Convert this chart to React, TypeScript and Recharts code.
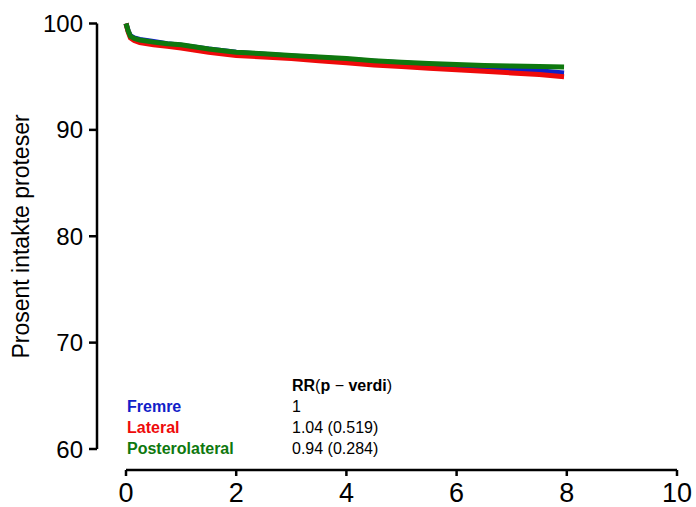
import { LineChart, Line, XAxis, YAxis } from 'recharts';

const years = [0, 0.04, 0.08, 0.15, 0.25, 0.5, 0.75, 1, 1.5, 2, 2.5, 3, 3.5, 4, 4.5, 5, 5.5, 6, 6.5, 7, 7.5, 7.95];
const fremre = [100, 99.3, 98.85, 98.65, 98.5, 98.3, 98.1, 97.95, 97.6, 97.3, 97.1, 96.95, 96.8, 96.65, 96.45, 96.3, 96.15, 96.05, 95.9, 95.75, 95.55, 95.35];
const lateral = [100, 99.2, 98.65, 98.4, 98.2, 98.0, 97.85, 97.7, 97.3, 97.0, 96.85, 96.7, 96.5, 96.3, 96.1, 95.95, 95.8, 95.65, 95.5, 95.35, 95.2, 95.0];
const posterolateral = [100, 99.3, 98.8, 98.6, 98.45, 98.25, 98.1, 98.0, 97.6, 97.3, 97.15, 97.0, 96.85, 96.7, 96.5, 96.35, 96.25, 96.15, 96.05, 96.0, 95.95, 95.9];

const groups = ['Fremre', 'Lateral', 'Posterolateral'];
const rrLabels = ['1', '1.04 (0.519)', '0.94 (0.284)'];
const COLORS = ['#1020c8', '#ee0a0a', '#0e780e'];

const xTicks = [0, 2, 4, 6, 8, 10];
const yTicks = [60, 70, 80, 90, 100];

const data = years.map((t, i) => ({
  t,
  fremre: fremre[i],
  lateral: lateral[i],
  posterolateral: posterolateral[i],
}));

// R-style axes sit a bit away from the plot region
const X_SHIFT = 21;
const Y_SHIFT = 29;

const axisStroke = { stroke: '#000', strokeWidth: 2.5 };

const XTick = (props: any) => (
  <text x={props.x} y={props.y + X_SHIFT} dy="0.71em" textAnchor="middle" fontSize={27} fill="#000">
    {props.payload.value}
  </text>
);

const YTick = (props: any) => (
  <text x={props.x - Y_SHIFT} y={props.y} dy="0.355em" textAnchor="end" fontSize={24} fill="#000">
    {props.payload.value}
  </text>
);

export default function App() {
  return (
    <div style={{ width: 696, height: 507, fontFamily: '"Liberation Sans", Arial, sans-serif' }}>
      <style>{`
        body { margin: 0; }
        .recharts-xAxis .recharts-cartesian-axis-line,
        .recharts-xAxis .recharts-cartesian-axis-tick-line { transform: translateY(${X_SHIFT}px); }
        .recharts-yAxis .recharts-cartesian-axis-line,
        .recharts-yAxis .recharts-cartesian-axis-tick-line { transform: translateX(-${Y_SHIFT}px); }
      `}</style>
      <LineChart width={696} height={507} data={data} margin={{ top: 23.5, right: 19, left: 0, bottom: 0 }}>
        <XAxis
          dataKey="t"
          type="number"
          domain={[0, 10]}
          ticks={xTicks}
          height={58}
          tickSize={6}
          tickMargin={7}
          axisLine={axisStroke}
          tickLine={axisStroke}
          tick={XTick}
        />
        <YAxis
          type="number"
          domain={[60, 100]}
          ticks={yTicks}
          width={126}
          tickSize={8}
          tickMargin={6}
          axisLine={axisStroke}
          tickLine={axisStroke}
          tick={YTick}
        />
        <Line dataKey="fremre" stroke={COLORS[0]} strokeWidth={5} dot={false} isAnimationActive={false} />
        <Line dataKey="lateral" stroke={COLORS[1]} strokeWidth={5} dot={false} isAnimationActive={false} />
        <Line dataKey="posterolateral" stroke={COLORS[2]} strokeWidth={5} dot={false} isAnimationActive={false} />
        <text x={29} y={236.5} transform="rotate(-90 29 236.5)" textAnchor="middle" fontSize={23} fill="#000">
          Prosent intakte proteser
        </text>
        <text x={292} y={391} fontSize={16} fill="#000">
          <tspan fontWeight="bold">RR</tspan>
          <tspan>(</tspan>
          <tspan fontWeight="bold">p</tspan>
          <tspan> − </tspan>
          <tspan fontWeight="bold">verdi</tspan>
          <tspan>)</tspan>
        </text>
        {groups.map((g, i) => (
          <text key={g} x={127} y={412 + i * 21} fontSize={16} fontWeight="bold" fill={COLORS[i]}>
            {g}
          </text>
        ))}
        {rrLabels.map((r, i) => (
          <text key={r} x={292} y={412 + i * 21} fontSize={16} fill="#000">
            {r}
          </text>
        ))}
      </LineChart>
    </div>
  );
}
